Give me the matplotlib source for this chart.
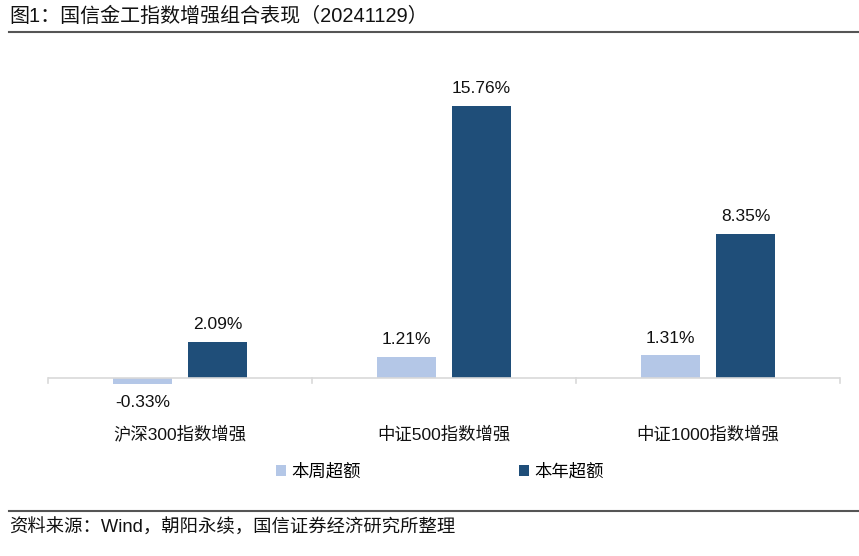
import matplotlib.pyplot as plt
import numpy as np

plt.rcParams['font.family'] = ['Liberation Sans', 'Noto Sans CJK SC', 'DejaVu Sans']

categories = ['沪深300指数增强', '中证500指数增强', '中证1000指数增强']
week_excess = [-0.33, 1.21, 1.31]
year_excess = [2.09, 15.76, 8.35]
series_names = ['本周超额', '本年超额']
colors = ['#B4C7E7', '#1F4E79']

title = '图1：国信金工指数增强组合表现（20241129）'
source = '资料来源：Wind，朝阳永续，国信证券经济研究所整理'

W, H = 859, 556
fig = plt.figure(figsize=(W / 100, H / 100), dpi=100)

# plot area in pixel coords
left, right, top, bottom = 48, 840, 55, 400
ax = fig.add_axes([left / W, 1 - bottom / H, (right - left) / W, (bottom - top) / H])

x = np.arange(len(categories))
bw = 0.224
gap = 0.06
off = (bw + gap) / 2
b1 = ax.bar(x - off, week_excess, bw, color=colors[0], label=series_names[0])
b2 = ax.bar(x + off, year_excess, bw, color=colors[1], label=series_names[1])

ax.set_xlim(-0.5, len(categories) - 0.5)
ax.set_ylim(-1.27, 18.71)

for bars, vals in [(b1, week_excess), (b2, year_excess)]:
    for b, v in zip(bars, vals):
        cx = b.get_x() + b.get_width() / 2
        if v >= 0:
            ax.annotate(f'{v:.2f}%', (cx, v), xytext=(0, 7), textcoords='offset points',
                        ha='center', va='bottom', fontsize=12.5, color='#111111')
        else:
            ax.annotate(f'{v:.2f}%', (cx, v), xytext=(0, -8), textcoords='offset points',
                        ha='center', va='top', fontsize=12.5, color='#111111')

# zero line and boundary ticks
ax.axhline(0, color='#D9D9D9', lw=1.2)
for s in ax.spines.values():
    s.set_visible(False)
ax.set_yticks([])
ax.set_xticks([])
for b in np.arange(-0.5, len(categories), 1.0):
    ax.plot([b, b], [0, -0.3], color='#D9D9D9', lw=1.2, clip_on=False)

for i, c in enumerate(categories):
    fig.text((left + (i + 0.5) * (right - left) / 3) / W, 1 - 435 / H, c,
             ha='center', va='center', fontsize=12.5, color='#111111')

# legend
fig.legend(handles=[b1, b2], labels=series_names, loc='center',
           bbox_to_anchor=(440 / W, 1 - 471 / H), ncol=2, frameon=False,
           fontsize=12.5, handlelength=0.6, handleheight=0.6, handletextpad=0.3,
           columnspacing=9.1)

# title, footer and separator lines
fig.text(9 / W, 1 - 16 / H, title, ha='left', va='center', fontsize=14.4, color='#111111')
fig.add_artist(plt.Line2D([9 / W, 1], [1 - 32 / H] * 2, color='#555555', lw=1.5))
fig.add_artist(plt.Line2D([9 / W, 1], [1 - 511 / H] * 2, color='#555555', lw=1.5))
fig.text(9 / W, 1 - 528 / H, source, ha='left', va='center', fontsize=13.2, color='#111111')

fig.savefig('out.png', dpi=100)
